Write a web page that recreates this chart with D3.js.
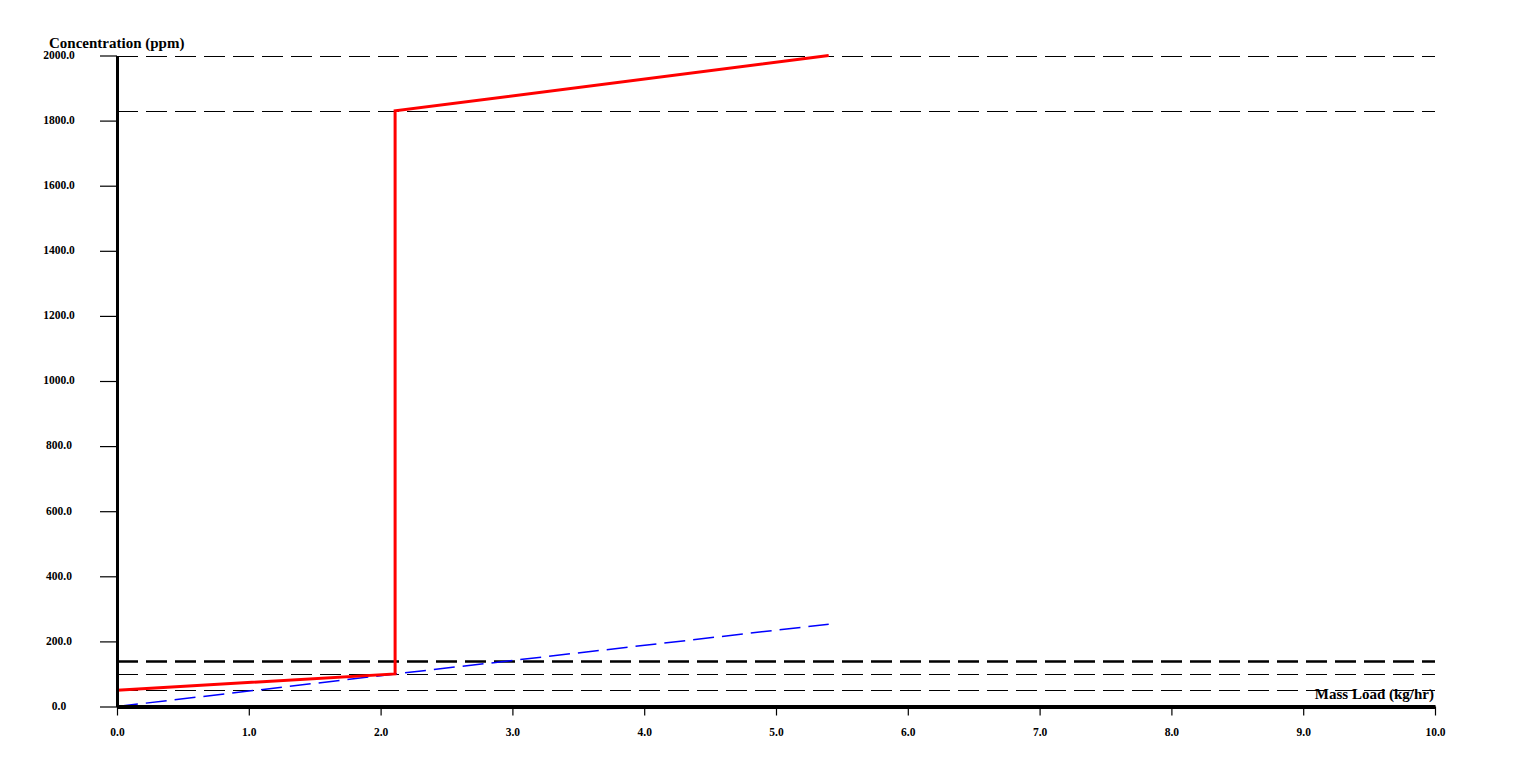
<!DOCTYPE html>
<html>
<head>
<meta charset="utf-8">
<script src="https://cdn.jsdelivr.net/npm/d3@7"></script>
<style>
  body { margin: 0; background: #ffffff; }
  text { font-family: "Liberation Serif", "Times New Roman", serif; font-weight: bold; fill: #000; }
</style>
</head>
<body>
<div id="chart"></div>
<script>
// values
var xTicks = [0, 1, 2, 3, 4, 5, 6, 7, 8, 9, 10]
var yTicks = [0, 200, 400, 600, 800, 1000, 1200, 1400, 1600, 1800, 2000]
var refLevels = [2000, 1830, 140, 100, 50]
var redX = [0, 2.11, 2.11, 5.4]
var redY = [50, 100, 1830, 2000]
var blueX = [0, 2.11, 5.4]
var blueY = [0, 100, 253]

var width = 1513,
    height = 772

var svg = d3.select("#chart").append("svg")
  .attr("width", width)
  .attr("height", height)
  .style("display", "block")

var x = d3.scaleLinear().domain([0, 10]).range([117, 1435])
var y = d3.scaleLinear().domain([0, 2000]).range([706.5, 55.5])

// reference levels (dashed)
svg.selectAll("line.ref")
  .data(refLevels)
  .enter().append("line")
    .attr("class", "ref")
    .attr("x1", x(0)).attr("x2", x(10))
    .attr("y1", function(d) { return Math.round(y(d)) + 0.5 })
    .attr("y2", function(d) { return Math.round(y(d)) + 0.5 })
    .attr("stroke", "#000")
    .attr("stroke-width", function(d) { return d == 140 ? 2.5 : 1.2 })
    .attr("stroke-dasharray", "21,8")

var line = d3.line()
  .x(function(d) { return x(d[0]) })
  .y(function(d) { return y(d[1]) })

// blue dashed line
svg.append("path")
  .datum(d3.zip(blueX, blueY))
  .attr("d", line)
  .attr("fill", "none")
  .attr("stroke", "#0000ff")
  .attr("stroke-width", 1.5)
  .attr("stroke-dasharray", "21,8")

// red line
svg.append("path")
  .datum(d3.zip(redX, redY))
  .attr("d", line)
  .attr("fill", "none")
  .attr("stroke", "#ff0000")
  .attr("stroke-width", 3)

// y axis
var gy = svg.append("g")
  .attr("transform", "translate(" + x(0) + ",0)")
  .call(d3.axisLeft(y).tickValues(yTicks).tickFormat(d3.format(".1f")).tickSize(17).tickSizeOuter(0))
gy.select(".domain").attr("stroke-width", 3)
gy.selectAll(".tick line").attr("stroke-width", 1.2)
gy.selectAll(".tick text")
  .attr("x", -58)
  .attr("dy", "0.25em")
  .attr("text-anchor", "middle")
  .style("font-size", "11.5px")
  .style("font-family", "Liberation Serif, serif")

// x axis
var gx = svg.append("g")
  .attr("transform", "translate(0," + y(0) + ")")
  .call(d3.axisBottom(x).tickValues(xTicks).tickFormat(d3.format(".1f")).tickSize(9).tickSizeOuter(0))
gx.select(".domain").attr("stroke-width", 4)
gx.selectAll(".tick line").attr("stroke-width", 1.2)
gx.selectAll(".tick text")
  .attr("y", 29)
  .attr("dy", "0")
  .style("font-size", "11.5px")
  .style("font-family", "Liberation Serif, serif")

// axis titles
svg.append("text")
  .attr("x", 49)
  .attr("y", 48)
  .style("font-size", "15px")
  .text("Concentration (ppm)")

svg.append("text")
  .attr("x", 1434)
  .attr("y", 699)
  .attr("text-anchor", "end")
  .style("font-size", "15px")
  .text("Mass Load (kg/hr)")
</script>
</body>
</html>
